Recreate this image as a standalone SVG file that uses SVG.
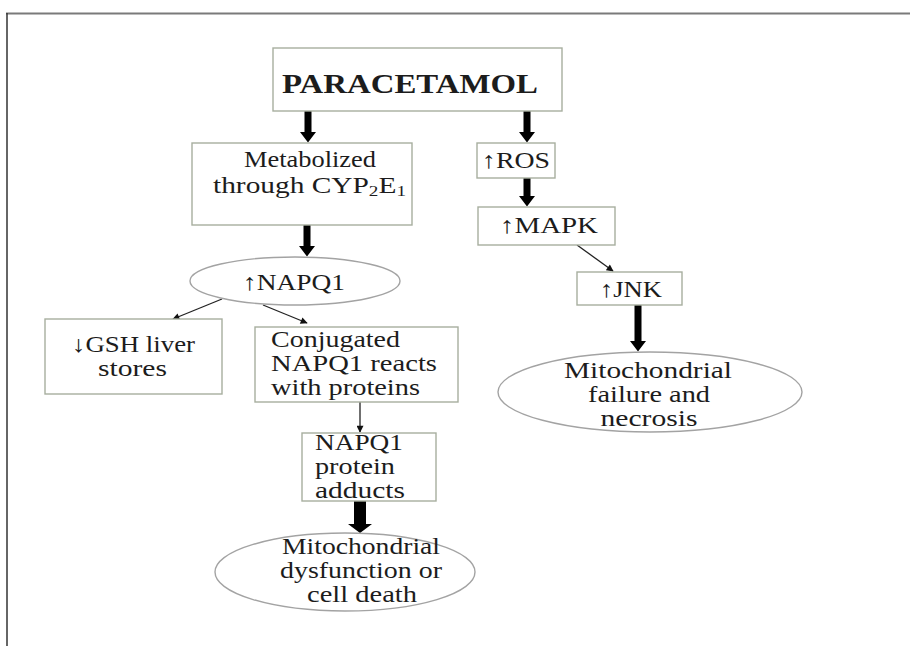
<svg xmlns="http://www.w3.org/2000/svg" width="910" height="646" viewBox="0 0 910 646">
  <style>
    .box { fill: #ffffff; stroke: #a7ae9f; stroke-width: 1.4; }
    .oval { fill: #ffffff; stroke: #a3a3a3; stroke-width: 1.4; }
    .t { font-family: "Liberation Serif", "Times New Roman", serif; font-size: 23px; fill: #1c1c1c; }
    .title { font-family: "Liberation Serif", "Times New Roman", serif; font-size: 28px; font-weight: bold; fill: #1c1c1c; }
    .thick { fill: #000000; }
    .thin { stroke: #222222; stroke-width: 1.3; fill: none; marker-end: url(#head); }
  </style>
  <defs>
    <marker id="head" viewBox="0 0 10 10" refX="9" refY="5" markerWidth="8" markerHeight="7" markerUnits="userSpaceOnUse" orient="auto">
      <path d="M0,0 L10,5 L0,10 z" fill="#111111"/>
    </marker>
  </defs>

  <rect width="910" height="646" fill="#ffffff"/>

  <!-- outer frame -->
  <g id="frame">
    <line x1="6" y1="13.5" x2="910" y2="13.5" stroke="#7a7a7a" stroke-width="2"/>
    <line x1="7" y1="13" x2="7" y2="646" stroke="#333333" stroke-width="1.5"/>
  </g>

  <!-- connectors -->
  <g id="connectors">
    <path class="thick" d="M304.5,111 h7 v21 h4.5 l-8,10.5 l-8,-10.5 h4.5 z"/>
    <path class="thick" d="M523.5,111 h7 v21 h4.5 l-8,10.5 l-8,-10.5 h4.5 z"/>
    <path class="thick" d="M523.5,178 h7 v18 h4.5 l-8,10.5 l-8,-10.5 h4.5 z"/>
    <path class="thick" d="M303.5,225 h7 v21 h4.5 l-8,10.5 l-8,-10.5 h4.5 z"/>
    <path class="thick" d="M634.5,305 h7 v36 h4.5 l-8,10.5 l-8,-10.5 h4.5 z"/>
    <path class="thick" d="M354,501 h12 v23 h6 l-12,9 l-12,-9 h6 z"/>
    <line class="thin" x1="222" y1="299" x2="173" y2="319"/>
    <line class="thin" x1="263" y1="305" x2="307" y2="323"/>
    <line class="thin" x1="577" y1="245" x2="613" y2="271"/>
    <line class="thin" x1="360" y1="402" x2="360" y2="432"/>
  </g>

  <g id="paracetamol">
    <rect class="box" x="273" y="48" width="289" height="63"/>
    <text class="title" x="282" y="93" textLength="256" lengthAdjust="spacingAndGlyphs">PARACETAMOL</text>
  </g>

  <g id="metabolized">
    <rect class="box" x="192" y="143" width="220" height="82"/>
    <text class="t" x="310" y="167" text-anchor="middle" textLength="132" lengthAdjust="spacingAndGlyphs">Metabolized</text>
    <text class="t" x="213" y="193" textLength="193" lengthAdjust="spacingAndGlyphs">through CYP<tspan font-size="15" dy="3">2</tspan><tspan dy="-3">E</tspan><tspan font-size="15" dy="3">1</tspan></text>
  </g>

  <g id="ros">
    <rect class="box" x="477" y="143" width="78" height="35"/>
    <text class="t" x="482" y="168" textLength="68" lengthAdjust="spacingAndGlyphs">↑ROS</text>
  </g>

  <g id="mapk">
    <rect class="box" x="478" y="207" width="137" height="38"/>
    <text class="t" x="500" y="233" textLength="98" lengthAdjust="spacingAndGlyphs">↑MAPK</text>
  </g>

  <g id="jnk">
    <rect class="box" x="577" y="272" width="105" height="33"/>
    <text class="t" x="600" y="297" textLength="62" lengthAdjust="spacingAndGlyphs">↑JNK</text>
  </g>

  <g id="mito-failure">
    <ellipse class="oval" cx="650" cy="392" rx="152" ry="40"/>
    <text class="t" x="648" y="378" text-anchor="middle" textLength="168" lengthAdjust="spacingAndGlyphs">Mitochondrial</text>
    <text class="t" x="649" y="402" text-anchor="middle" textLength="122" lengthAdjust="spacingAndGlyphs">failure  and</text>
    <text class="t" x="649" y="426" text-anchor="middle" textLength="97" lengthAdjust="spacingAndGlyphs">necrosis</text>
  </g>

  <g id="napq1">
    <ellipse class="oval" cx="295" cy="281" rx="105" ry="24"/>
    <text class="t" x="243" y="290" textLength="102" lengthAdjust="spacingAndGlyphs">↑NAPQ1</text>
  </g>

  <g id="gsh">
    <rect class="box" x="45" y="319" width="177" height="75"/>
    <text class="t" x="72" y="352" textLength="123" lengthAdjust="spacingAndGlyphs">↓GSH liver</text>
    <text class="t" x="98" y="376" textLength="69" lengthAdjust="spacingAndGlyphs">stores</text>
  </g>

  <g id="conjugated">
    <rect class="box" x="255" y="327" width="203" height="75"/>
    <text class="t" x="271" y="347" textLength="129" lengthAdjust="spacingAndGlyphs">Conjugated</text>
    <text class="t" x="271" y="371" textLength="166" lengthAdjust="spacingAndGlyphs">NAPQ1 reacts</text>
    <text class="t" x="271" y="395" textLength="149" lengthAdjust="spacingAndGlyphs">with  proteins</text>
  </g>

  <g id="adducts">
    <rect class="box" x="302" y="433" width="134" height="68"/>
    <text class="t" x="315" y="450" textLength="88" lengthAdjust="spacingAndGlyphs">NAPQ1</text>
    <text class="t" x="315" y="474" textLength="80" lengthAdjust="spacingAndGlyphs">protein</text>
    <text class="t" x="315" y="498" textLength="90" lengthAdjust="spacingAndGlyphs">adducts</text>
  </g>

  <g id="mito-dysfunction">
    <ellipse class="oval" cx="345" cy="572" rx="130" ry="39"/>
    <text class="t" x="361" y="554" text-anchor="middle" textLength="158" lengthAdjust="spacingAndGlyphs">Mitochondrial</text>
    <text class="t" x="361" y="578" text-anchor="middle" textLength="162" lengthAdjust="spacingAndGlyphs">dysfunction or</text>
    <text class="t" x="362" y="602" text-anchor="middle" textLength="110" lengthAdjust="spacingAndGlyphs">cell  death</text>
  </g>
</svg>
